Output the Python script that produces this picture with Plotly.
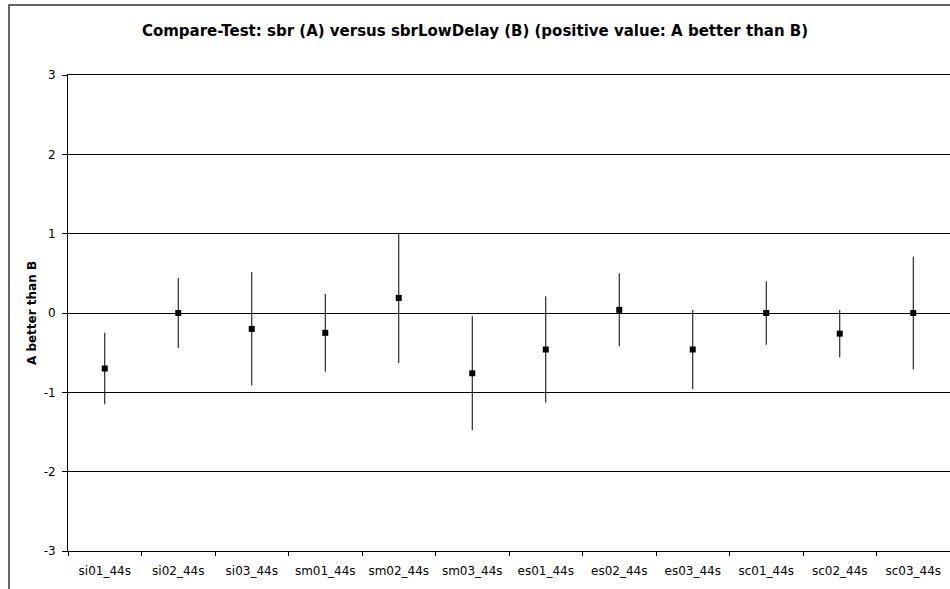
import plotly.graph_objects as go

categories = ["si01_44s", "si02_44s", "si03_44s", "sm01_44s", "sm02_44s", "sm03_44s",
              "es01_44s", "es02_44s", "es03_44s", "sc01_44s", "sc02_44s", "sc03_44s"]
means = [-0.70, 0.00, -0.20, -0.25, 0.19, -0.76, -0.46, 0.04, -0.46, 0.00, -0.26, 0.00]
ci = [0.45, 0.44, 0.715, 0.49, 0.82, 0.72, 0.67, 0.46, 0.50, 0.40, 0.30, 0.71]
y_ticks = [-3, -2, -1, 0, 1, 2, 3]
y_tick_labels = ["-3", "-2", "-1", "0", "1", "2", "3"]

font_family = "DejaVu Sans, Verdana, sans-serif"

fig = go.Figure()
fig.add_trace(go.Scatter(
    x=categories, y=means, mode="markers",
    marker=dict(symbol="square", size=6, color="black"),
    error_y=dict(type="data", array=ci, visible=True, color="black", thickness=1, width=0),
    showlegend=False,
))

fig.update_layout(
    width=950, height=589,
    margin=dict(l=68, r=0, t=75, b=38),
    paper_bgcolor="white", plot_bgcolor="white",
    title=dict(text="<b>Compare-Test: sbr (A) versus sbrLowDelay (B) (positive value: A better than B)</b>",
               x=0.5, xanchor="center", y=1 - 31 / 589, yanchor="middle",
               font=dict(family=font_family, size=15, color="black")),
    font=dict(family=font_family, size=12, color="black"),
    xaxis=dict(
        type="category", tickson="boundaries", ticks="outside", ticklen=4,
        tickcolor="black", showline=True, linecolor="black", linewidth=1,
        mirror=True,
        showgrid=False, tickfont=dict(size=12, family=font_family, color="black"),
        tickangle=0, automargin=False, ticklabelstandoff=9,
        range=[-0.5, 11.5],
    ),
    yaxis=dict(
        range=[-3, 3], tickvals=y_ticks, ticktext=y_tick_labels,
        ticks="outside", ticklen=5, tickcolor="black",
        showline=True, linecolor="black", linewidth=1,
        showgrid=True, gridcolor="black", gridwidth=1, zeroline=False,
        tickfont=dict(size=12, family=font_family, color="black"),
        ticklabelstandoff=4, automargin=False,
        title=dict(text="<b>A better than B</b>", font=dict(size=12, family=font_family, color="black"), standoff=4),
    ),
)

# outer chart border (extends past the right and bottom edges)
fig.add_shape(type="rect", xref="paper", yref="paper",
              x0=(9 - 68) / 882, x1=1.2, y0=-0.3, y1=1 + (75 - 5) / 476,
              line=dict(color="#333333", width=1.5), layer="below")

fig.write_html("out.html")
